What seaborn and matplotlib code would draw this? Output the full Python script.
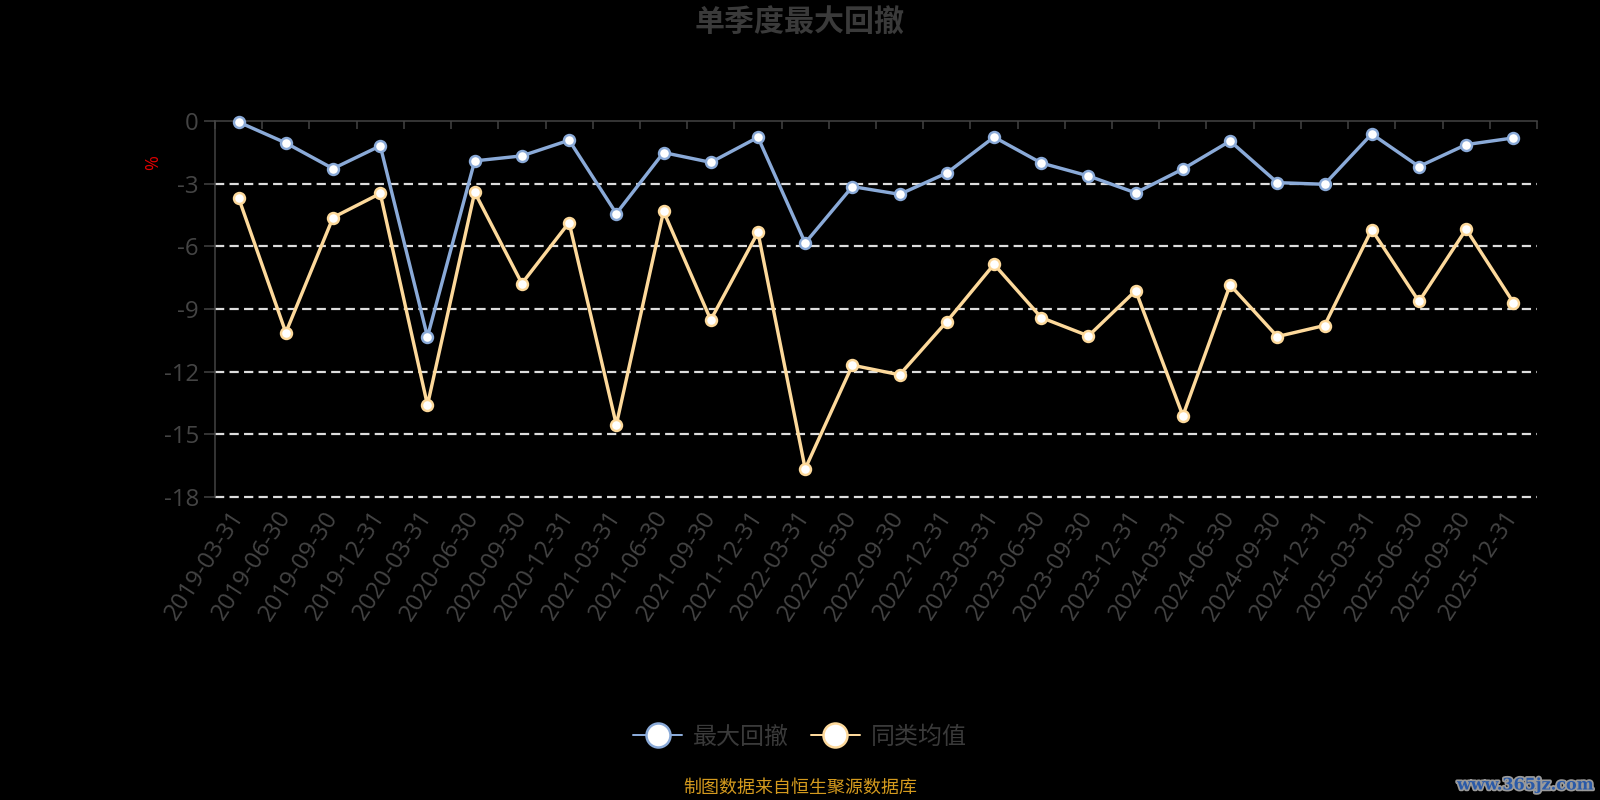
import matplotlib
matplotlib.use("Agg")
import matplotlib.pyplot as plt
import matplotlib.patheffects as pe
from matplotlib.lines import Line2D
from matplotlib.ticker import FixedLocator
import seaborn as sns
import pandas as pd

# ---------------- data ----------------
dates = ["2019-03-31", "2019-06-30", "2019-09-30", "2019-12-31",
         "2020-03-31", "2020-06-30", "2020-09-30", "2020-12-31",
         "2021-03-31", "2021-06-30", "2021-09-30", "2021-12-31",
         "2022-03-31", "2022-06-30", "2022-09-30", "2022-12-31",
         "2023-03-31", "2023-06-30", "2023-09-30", "2023-12-31",
         "2024-03-31", "2024-06-30", "2024-09-30", "2024-12-31",
         "2025-03-31", "2025-06-30", "2025-09-30", "2025-12-31"]
max_drawdown = [-0.05, -1.05, -2.28, -1.19, -10.33, -1.91, -1.67, -0.92,
                -4.43, -1.51, -1.98, -0.78, -5.84, -3.14, -3.51, -2.49,
                -0.77, -2.01, -2.63, -3.44, -2.30, -0.96, -2.95, -3.03,
                -0.62, -2.18, -1.13, -0.81]
peer_avg = [-3.68, -10.13, -4.62, -3.47, -13.60, -3.41, -7.78, -4.86,
            -14.54, -4.32, -9.52, -5.33, -16.65, -11.69, -12.15, -9.60,
            -6.86, -9.41, -10.29, -8.12, -14.11, -7.85, -10.32, -9.79,
            -5.20, -8.64, -5.18, -8.69]
series_names = ["最大回撤", "同类均值"]
y_ticks = [0, -3, -6, -9, -12, -15, -18]
title = "单季度最大回撤"
source = "制图数据来自恒生聚源数据库"
watermark = "www.365jz.com"

# ---------------- style ----------------
sns.set_style("dark")
plt.rcParams["font.family"] = ["Open Sans", "Noto Sans CJK SC", "DejaVu Sans"]
PX = 0.72  # points per pixel at dpi=100
BG = "#000000"
TXT = "#444444"
AX = "#444444"
colors = {"最大回撤": "#8aaad8", "同类均值": "#fdd99b"}

fig = plt.figure(figsize=(16, 8), dpi=100, facecolor=BG)
ax = fig.add_axes([215 / 1600, 1 - 497 / 800, (1537 - 215) / 1600, (497 - 121) / 800])
ax.set_facecolor(BG)

x = list(range(len(dates)))
for name, vals in zip(series_names, [max_drawdown, peer_avg]):
    df = pd.DataFrame({"x": x, "y": vals})
    c = colors[name]
    sns.lineplot(data=df, x="x", y="y", ax=ax, color=c, linewidth=3.4 * PX,
                 marker="o", markersize=11 * PX, markerfacecolor="white",
                 markeredgecolor=c, markeredgewidth=2.4 * PX, clip_on=False,
                 legend=False, zorder=5)

ax.set_xlim(-0.5, len(dates) - 0.5)
ax.set_ylim(-18, 0)

# y axis
ax.set_yticks(y_ticks)
ax.set_yticklabels([str(v) for v in y_ticks])
ax.tick_params(axis="y", which="major", left=True, length=11 * PX, width=1.5 * PX,
               color=AX, labelcolor=TXT, labelsize=24 * PX, pad=5 * PX)
ax.yaxis.grid(True, color="#dddddd", linewidth=2.2 * PX, linestyle=(0, (4.2, 2.4)))
for gl, v in zip(ax.get_ygridlines(), y_ticks):
    gl.set_clip_on(False)
    if v == 0:
        gl.set_visible(False)
ax.set_ylabel("%", color="#e00000", fontsize=18 * PX)
ax.yaxis.set_label_coords(-0.040, 0.89)

# x axis: labels at bottom, boundary ticks on top spine
ax.set_xticks(x)
ax.set_xticklabels(dates, rotation=57, ha="right", va="center",
                   rotation_mode="anchor")
ax.tick_params(axis="x", which="major", bottom=True, top=False, length=0,
               labelcolor=TXT, labelsize=24 * PX, pad=16 * PX)
ax.xaxis.set_minor_locator(FixedLocator([k - 0.5 for k in range(len(dates) + 1)]))
ax.tick_params(axis="x", which="minor", bottom=False, top=True, direction="in",
               length=8 * PX, width=1.5 * PX, color=AX)
ax.xaxis.grid(False)
ax.set_xlabel("")

for s in ["right", "bottom"]:
    ax.spines[s].set_visible(False)
for s in ["left", "top"]:
    ax.spines[s].set_visible(True)
    ax.spines[s].set_color(AX)
    ax.spines[s].set_linewidth(1.5 * PX)

# title
fig.text(0.5, 1 - 23 / 800, title, ha="center", va="center", color="#3a3a3a",
         fontsize=30 * PX, fontweight="bold", family=["Noto Sans CJK SC"])

# legend
handles = [Line2D([0], [0], color=colors[n], linewidth=2 * PX, marker="o",
                  markersize=24 * PX, markerfacecolor="white",
                  markeredgecolor=colors[n], markeredgewidth=2.5 * PX)
           for n in series_names]
leg = fig.legend(handles, series_names, loc="center", bbox_to_anchor=(0.5, 1 - 737 / 800),
                 ncol=2, frameon=False, handlelength=2.05,
                 handletextpad=0.45, columnspacing=0.9,
                 prop={"family": ["Noto Sans CJK SC"], "size": 24 * PX})
for t in leg.get_texts():
    t.set_color("#3a3a3a")

# source
fig.text(0.5, 1 - 788 / 800, source, ha="center", va="center", color="#d49a1e",
         fontsize=18 * PX, family=["Noto Sans CJK SC"])

# watermark
fig.text(1593 / 1600, 1 - 785 / 800, watermark, ha="right", va="center",
         color="#2a5aa8", fontsize=16 * PX, fontweight="bold", family=["DejaVu Serif"],
         path_effects=[pe.withStroke(linewidth=2.5, foreground="#9a9a9a")])

fig.savefig("out.png", dpi=100, facecolor=BG)
